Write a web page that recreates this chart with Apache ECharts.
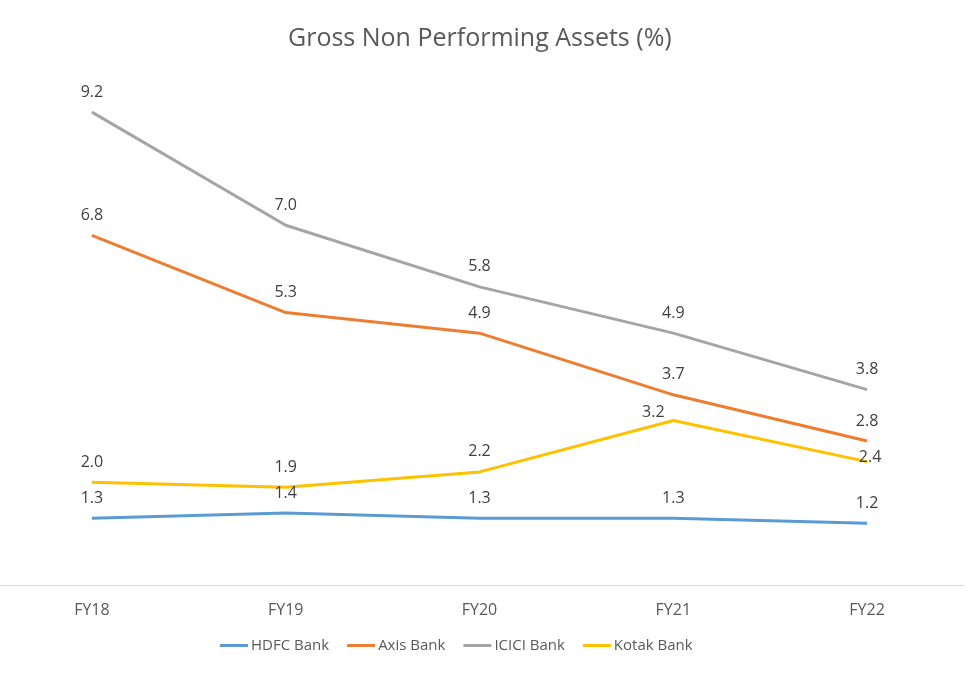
<!DOCTYPE html>
<html>
<head>
<meta charset="utf-8">
<script src="https://cdn.jsdelivr.net/npm/echarts@6/dist/echarts.min.js"></script>
<style>
  html, body { margin: 0; padding: 0; background: #fff; }
  #chart { width: 975px; height: 684px; }
</style>
</head>
<body>
<div id="chart"></div>
<script>
var years = ['FY18', 'FY19', 'FY20', 'FY21', 'FY22'];
var hdfc = [1.3, 1.4, 1.3, 1.3, 1.2];
var axis = [6.8, 5.3, 4.9, 3.7, 2.8];
var icici = [9.2, 7.0, 5.8, 4.9, 3.8];
var kotak = [2.0, 1.9, 2.2, 3.2, 2.4];

var FONT = '"Open Sans", "Noto Sans", sans-serif';

// labels that were moved by hand in the original
var kotakLabelFix = {
  3: { offset: [-20, 12] },
  4: { position: 'inside', offset: [3, -4] }
};

function lineSeries(name, color, values, fix) {
  return {
    name: name,
    type: 'line',
    data: values.map(function (v, i) {
      var d = { value: v };
      if (fix && fix[i]) d.label = fix[i];
      return d;
    }),
    symbol: 'circle',
    symbolSize: 0,
    showSymbol: true,
    lineStyle: { color: color, width: 3 },
    itemStyle: { color: color },
    label: {
      show: true,
      position: 'top',
      distance: 12,
      color: '#404040',
      fontFamily: FONT,
      fontSize: 16,
      formatter: function (p) { return p.value.toFixed(1); }
    }
  };
}

var chart = echarts.init(document.getElementById('chart'));
chart.setOption({
  animation: false,
  color: ['#5B9BD5', '#ED7D31', '#A5A5A5', '#FFC000'],
  title: {
    text: 'Gross Non Performing Assets (%)',
    left: 283,
    top: 21,
    textStyle: { color: '#595959', fontFamily: FONT, fontSize: 25, fontWeight: 'normal' }
  },
  legend: {
    bottom: 26,
    left: 215,
    itemWidth: 28,
    itemHeight: 3,
    itemGap: 18,
    icon: 'rect',
    textStyle: { color: '#595959', fontFamily: FONT, fontSize: 15, padding: [0, 0, 0, -2] },
    data: ['HDFC Bank', 'Axis Bank', 'ICICI Bank', 'Kotak Bank']
  },
  grid: { left: -5, right: 11, top: 71, bottom: 99, outerBoundsMode: 'none' },
  xAxis: {
    type: 'category',
    data: years,
    boundaryGap: true,
    axisLine: { lineStyle: { color: '#D9D9D9', width: 1 } },
    axisTick: { show: false },
    axisLabel: { color: '#595959', fontFamily: FONT, fontSize: 16, margin: 17 }
  },
  yAxis: {
    type: 'value',
    min: 0,
    max: 10,
    show: false,
    splitLine: { show: false }
  },
  series: [
    lineSeries('HDFC Bank', '#5B9BD5', hdfc),
    lineSeries('Axis Bank', '#ED7D31', axis),
    lineSeries('ICICI Bank', '#A5A5A5', icici),
    lineSeries('Kotak Bank', '#FFC000', kotak, kotakLabelFix)
  ]
});
</script>
</body>
</html>
